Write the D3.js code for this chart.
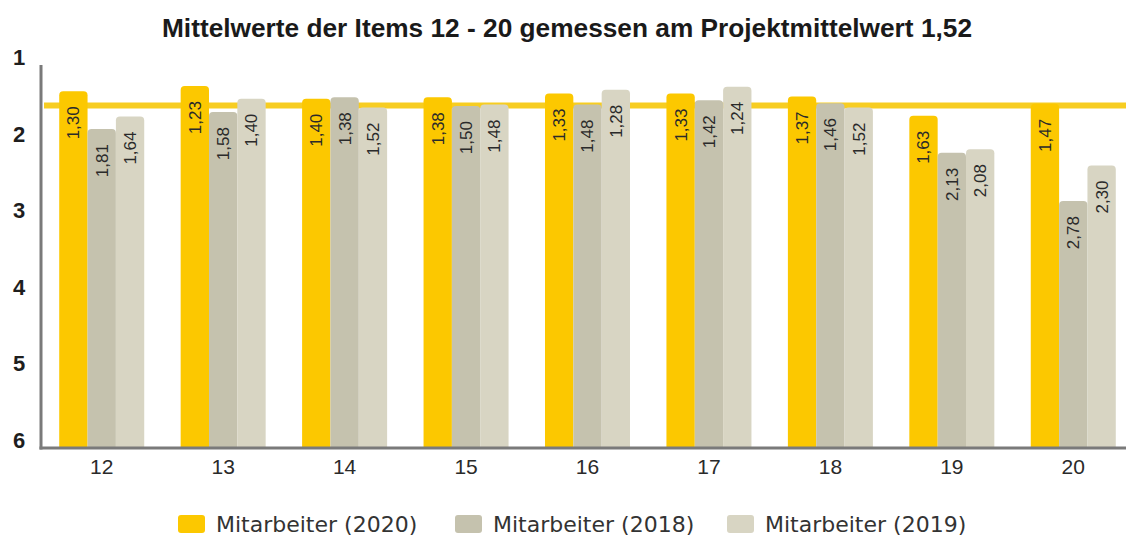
<!DOCTYPE html>
<html>
<head>
<meta charset="utf-8">
<script src="https://cdn.jsdelivr.net/npm/d3@7"></script>
<style>
  body { margin: 0; background: #fff; }
  .bar-label { font-family: "Liberation Sans Narrow", "Liberation Sans", sans-serif; font-size: 17px; fill: #2a2a2a; }
  .x-label { font-family: "Liberation Sans Narrow", "Liberation Sans", sans-serif; font-size: 21px; fill: #2a2a2a; }
  .y-label { font-family: "Liberation Sans", sans-serif; font-size: 22px; font-weight: bold; fill: #1e1e1e; }
  .legend text { font-family: "DejaVu Sans", sans-serif; font-size: 22px; fill: #333; }
</style>
</head>
<body>
<div id="chart"></div>
<script>
// Data:
var items = ["12", "13", "14", "15", "16", "17", "18", "19", "20"];
var series = ["Mitarbeiter (2020)", "Mitarbeiter (2018)", "Mitarbeiter (2019)"];
var values2020 = [1.30, 1.23, 1.40, 1.38, 1.33, 1.33, 1.37, 1.63, 1.47];
var values2018 = [1.81, 1.58, 1.38, 1.50, 1.48, 1.42, 1.46, 2.13, 2.78];
var values2019 = [1.64, 1.40, 1.52, 1.48, 1.28, 1.24, 1.52, 2.08, 2.30];
var yTicks = [1, 2, 3, 4, 5, 6];
var projectMean = 1.52;
var title = "Mittelwerte der Items 12 - 20 gemessen am Projektmittelwert 1,52";

// Constants:
var WIDTH = 1126, HEIGHT = 539,
  AXIS_X = 41, AXIS_Y = 448,
  COLORS = ["#fcc800", "#c5c2ae", "#d8d5c3"];

var svg = d3.select("#chart").append("svg")
  .attr("width", WIDTH)
  .attr("height", HEIGHT);

var x = d3.scaleBand().domain(items).range([AXIS_X, 1134])
  .paddingInner(0.3).paddingOuter(0.15);
var xSub = d3.scaleBand().domain(d3.range(series.length)).range([0, x.bandwidth()]);
// value 1 on top, 6 at the bottom
var y = d3.scaleLinear().domain([1, 6]).range([69, 440]);
// tick labels sit a little higher than the bar scale in the original
var yTick = d3.scaleLinear().domain([1, 6]).range([57, 440]);

var fmt = d3.formatLocale({ decimal: ",", thousands: ".", grouping: [3], currency: ["", ""] }).format(".2f");

// Title
svg.append("text")
  .attr("x", 567).attr("y", 37)
  .attr("text-anchor", "middle")
  .attr("textLength", 810).attr("lengthAdjust", "spacingAndGlyphs")
  .style("font-family", "'Liberation Sans Narrow', 'Liberation Sans', sans-serif")
  .style("font-size", "26px").style("font-weight", "bold").style("fill", "#1a1a1a")
  .text(title);

// Project mean line (behind the bars)
svg.append("line")
  .attr("x1", AXIS_X + 3).attr("x2", WIDTH)
  .attr("y1", y(projectMean) - 2).attr("y2", y(projectMean) - 2)
  .attr("stroke", "#f7cd22").attr("stroke-width", 6);

var rows = items.map(function(d, i) {
  return { item: d, vals: [values2020[i], values2018[i], values2019[i]] };
});

var groups = svg.selectAll("g.item")
  .data(rows)
  .enter().append("g")
  .attr("class", "item")
  .attr("transform", function(d) { return "translate(" + x(d.item) + ",0)"; });

// bar with rounded top corners
function barPath(x0, w, top, bottom, r) {
  return "M" + x0 + "," + bottom +
    "V" + (top + r) +
    "Q" + x0 + "," + top + " " + (x0 + r) + "," + top +
    "H" + (x0 + w - r) +
    "Q" + (x0 + w) + "," + top + " " + (x0 + w) + "," + (top + r) +
    "V" + bottom + "Z";
}

var bars = groups.selectAll("g.bar")
  .data(function(d) { return d.vals.map(function(v, j) { return { v: v, j: j }; }); })
  .enter().append("g")
  .attr("class", "bar");

bars.append("path")
  .attr("d", function(d) { return barPath(xSub(d.j), xSub.bandwidth(), y(d.v), AXIS_Y, 4); })
  .attr("fill", function(d) { return COLORS[d.j]; });

bars.append("text")
  .attr("class", "bar-label")
  .attr("text-anchor", "end")
  .attr("dy", "0.35em")
  .attr("transform", function(d) {
    return "translate(" + (xSub(d.j) + xSub.bandwidth() / 2) + "," + (y(d.v) + 15) + ") rotate(-90)";
  })
  .text(function(d) { return fmt(d.v); });

// Axes
svg.append("line")
  .attr("x1", AXIS_X).attr("x2", AXIS_X)
  .attr("y1", 65).attr("y2", AXIS_Y + 1.5)
  .attr("stroke", "#7a7a7a").attr("stroke-width", 3);
svg.append("line")
  .attr("x1", AXIS_X - 1.5).attr("x2", WIDTH)
  .attr("y1", AXIS_Y).attr("y2", AXIS_Y)
  .attr("stroke", "#7a7a7a").attr("stroke-width", 3);

svg.selectAll("text.y-label")
  .data(yTicks)
  .enter().append("text")
  .attr("class", "y-label")
  .attr("x", 19).attr("y", function(d) { return yTick(d); })
  .attr("dy", "0.36em")
  .attr("text-anchor", "middle")
  .text(function(d) { return d; });

svg.selectAll("text.x-label")
  .data(items)
  .enter().append("text")
  .attr("class", "x-label")
  .attr("x", function(d) { return x(d) + x.bandwidth() / 2; })
  .attr("y", 474)
  .attr("text-anchor", "middle")
  .text(function(d) { return d; });

// Legend
var legendX = [178, 455, 727];
var legend = svg.append("g").attr("class", "legend")
  .selectAll("g")
  .data(series)
  .enter().append("g")
  .attr("transform", function(d, i) { return "translate(" + legendX[i] + ",515)"; });

legend.append("rect")
  .attr("width", 27).attr("height", 18).attr("rx", 3)
  .attr("fill", function(d, i) { return COLORS[i]; });

legend.append("text")
  .attr("x", 38).attr("y", 17)
  .text(function(d) { return d; });
</script>
</body>
</html>
